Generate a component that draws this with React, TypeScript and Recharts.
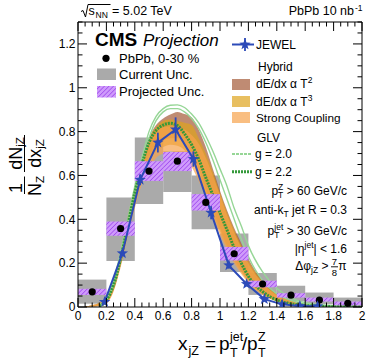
/**
 * Z+jet x_jZ distribution: PbPb data boxes, JEWEL, Hybrid bands, GLV curves.
 */

import {
  Area,
  ComposedChart,
  ErrorBar,
  Line,
  ReferenceArea,
  Scatter,
  XAxis,
  YAxis,
} from 'recharts';

const FONT = "'Liberation Sans', Arial, Helvetica, sans-serif";
const BLUE = '#2c4ab8';
const GRAY = '#aaaaaa';
const LIGHT_GREEN = '#96d696';
const DARK_GREEN = '#35993a';
const BROWN = '#a45a38';
const GOLD = '#dea41c';
const PEACH = '#f7a24c';
const BAND_OPACITY = 0.7;

// PbPb data, 0.2 wide bins
const BIN_EDGES = [0, 0.2, 0.4, 0.6, 0.8, 1.0, 1.2, 1.4, 1.6, 1.8, 2.0];
const DATA_X = [0.1, 0.3, 0.5, 0.7, 0.9, 1.1, 1.3, 1.5, 1.7, 1.9];
const DATA_Y = [0.069, 0.358, 0.62, 0.665, 0.477, 0.243, 0.105, 0.054, 0.032, 0.017];
const CURRENT_LO = [0.015, 0.21, 0.47, 0.525, 0.355, 0.16, 0.055, 0.025, 0.012, 0.003];
const CURRENT_HI = [0.125, 0.5, 0.773, 0.71, 0.6, 0.335, 0.155, 0.097, 0.066, 0.043];
const PROJ_LO = [0.055, 0.325, 0.575, 0.62, 0.44, 0.212, 0.09, 0.043, 0.025, 0.008];
const PROJ_HI = [0.083, 0.39, 0.665, 0.707, 0.515, 0.274, 0.12, 0.063, 0.043, 0.025];

// JEWEL
const JEWEL_X = [0.1875, 0.3125, 0.4375, 0.5625, 0.6875, 0.8125, 0.9375, 1.0625, 1.1875, 1.3125, 1.4375, 1.5625, 1.6875];
const JEWEL_Y = [0.023, 0.245, 0.58, 0.75, 0.81, 0.675, 0.43, 0.19, 0.105, 0.036, 0.012, 0.004, 0.003];
const JEWEL_ERR = [0.005, 0.015, 0.025, 0.045, 0.055, 0.035, 0.03, 0.015, 0.01, 0.006, 0.004, 0.002, 0.002];

// theory curves (Hybrid bands, GLV)
const THEORY_X = [0.05, 0.1, 0.15, 0.2, 0.25, 0.3, 0.35, 0.4, 0.45, 0.5, 0.55, 0.6, 0.65, 0.7, 0.75, 0.8, 0.85, 0.9, 0.95, 1.0, 1.05, 1.1, 1.15, 1.2, 1.3, 1.4, 1.5, 1.6, 1.7, 1.8, 1.9, 2.0];
const SC_LO = [0, 0.002, 0.005, 0.015, 0.07, 0.18, 0.32, 0.45, 0.56, 0.63, 0.68, 0.7, 0.71, 0.7, 0.68, 0.64, 0.575, 0.5, 0.41, 0.33, 0.26, 0.2, 0.15, 0.11, 0.055, 0.025, 0.012, 0.006, 0.003, 0.001, 0, 0];
const SC_HI = [0.003, 0.008, 0.018, 0.045, 0.12, 0.25, 0.4, 0.54, 0.66, 0.76, 0.8, 0.82, 0.825, 0.82, 0.81, 0.785, 0.745, 0.68, 0.6, 0.51, 0.42, 0.34, 0.27, 0.2, 0.11, 0.055, 0.028, 0.014, 0.008, 0.004, 0.002, 0.001];
const T3_LO = [0, 0.002, 0.006, 0.018, 0.075, 0.19, 0.33, 0.47, 0.59, 0.67, 0.71, 0.73, 0.74, 0.735, 0.715, 0.67, 0.6, 0.52, 0.43, 0.345, 0.27, 0.21, 0.16, 0.115, 0.058, 0.027, 0.013, 0.006, 0.003, 0.001, 0, 0];
const T3_HI = [0.003, 0.008, 0.018, 0.045, 0.12, 0.25, 0.41, 0.55, 0.67, 0.77, 0.82, 0.85, 0.855, 0.85, 0.84, 0.83, 0.77, 0.7, 0.615, 0.52, 0.43, 0.35, 0.28, 0.21, 0.115, 0.058, 0.029, 0.015, 0.008, 0.004, 0.002, 0.001];
const T2_LO = [0, 0.002, 0.006, 0.018, 0.075, 0.19, 0.34, 0.48, 0.6, 0.69, 0.74, 0.76, 0.77, 0.77, 0.75, 0.7, 0.63, 0.54, 0.45, 0.36, 0.28, 0.22, 0.165, 0.12, 0.06, 0.028, 0.013, 0.006, 0.003, 0.001, 0, 0];
const T2_HI = [0.003, 0.008, 0.018, 0.045, 0.12, 0.25, 0.41, 0.55, 0.67, 0.77, 0.83, 0.86, 0.878, 0.89, 0.88, 0.865, 0.81, 0.73, 0.63, 0.53, 0.44, 0.36, 0.29, 0.22, 0.12, 0.06, 0.03, 0.015, 0.008, 0.004, 0.002, 0.001];
const G20_LO = [null, null, 0.005, 0.03, 0.1, 0.22, 0.37, 0.52, 0.655, 0.77, 0.85, 0.89, 0.905, 0.905, 0.89, 0.86, 0.815, 0.75, 0.67, 0.58, 0.49, 0.4, 0.31, 0.23, 0.12, 0.06, 0.03, 0.014, 0.007, 0.003, 0.001, 0];
const G20_HI = [null, null, 0.01, 0.04, 0.12, 0.25, 0.4, 0.55, 0.68, 0.8, 0.87, 0.905, 0.92, 0.922, 0.91, 0.88, 0.84, 0.78, 0.71, 0.63, 0.55, 0.45, 0.37, 0.28, 0.16, 0.085, 0.042, 0.02, 0.01, 0.005, 0.002, 0.001];
const G22 = [null, null, 0.005, 0.03, 0.1, 0.22, 0.37, 0.52, 0.65, 0.75, 0.805, 0.83, 0.838, 0.828, 0.79, 0.74, 0.675, 0.59, 0.51, 0.43, 0.35, 0.27, 0.2, 0.14, 0.07, 0.032, 0.015, 0.007, 0.003, 0.0015, 0.0005, 0];

// axes
const X_MAJOR = [0, 0.2, 0.4, 0.6, 0.8, 1, 1.2, 1.4, 1.6, 1.8, 2];
const X_LABELS = ['0', '0.2', '0.4', '0.6', '0.8', '1', '1.2', '1.4', '1.6', '1.8', '2'];
const Y_MAJOR = [0, 0.2, 0.4, 0.6, 0.8, 1, 1.2];
const Y_LABELS = ['0', '0.2', '0.4', '0.6', '0.8', '1', '1.2'];
const X_TICKS = Array.from({ length: 41 }, (_, i) => i * 0.05);
const Y_TICKS = Array.from({ length: 27 }, (_, i) => i * 0.05);

const theoryRows = THEORY_X.map((x, i) => ({
  x,
  t2: [T2_LO[i], T2_HI[i]],
  t3: [T3_LO[i], T3_HI[i]],
  sc: [SC_LO[i], SC_HI[i]],
  g20lo: G20_LO[i],
  g20hi: G20_HI[i],
  g22: G22[i],
}));
const jewelRows = JEWEL_X.map((x, i) => ({ x, y: JEWEL_Y[i], err: JEWEL_ERR[i] }));
const dataRows = DATA_X.map((x, i) => ({ x, y: DATA_Y[i] }));

const majorIndex = (list: number[], v: number) => list.findIndex((m) => Math.abs(m - v) < 1e-6);

function xTick(side: 'bottom' | 'top') {
  return (props: any) => {
    const { x, y, payload } = props;
    const i = majorIndex(X_MAJOR, payload.value);
    const len = i >= 0 ? 9 : 4.5;
    const dir = side === 'bottom' ? -1 : 1;
    return (
      <g>
        <line x1={x} x2={x} y1={y} y2={y + dir * len} stroke="#000" strokeWidth={1} />
        {side === 'bottom' && i >= 0 && (
          <text x={x} y={y + 12.5} textAnchor="middle" fontSize={12} fontFamily={FONT} fill="#000">
            {X_LABELS[i]}
          </text>
        )}
      </g>
    );
  };
}

function yTick(side: 'left' | 'right') {
  return (props: any) => {
    const { x, y, payload } = props;
    const i = majorIndex(Y_MAJOR, payload.value);
    const len = i >= 0 ? 9 : 4.5;
    const dir = side === 'left' ? 1 : -1;
    return (
      <g>
        <line x1={x} x2={x + dir * len} y1={y} y2={y} stroke="#000" strokeWidth={1} />
        {side === 'left' && i >= 0 && (
          <text x={x - 2.5} y={y + 4.3} textAnchor="end" fontSize={12} fontFamily={FONT} fill="#000">
            {Y_LABELS[i]}
          </text>
        )}
      </g>
    );
  };
}

function Star({ cx, cy, r = 6 }: { cx: number; cy: number; r?: number }) {
  const pts: string[] = [];
  for (let k = 0; k < 10; k++) {
    const rad = k % 2 === 0 ? r : r * 0.42;
    const a = -Math.PI / 2 + (k * Math.PI) / 5;
    pts.push(`${cx + rad * Math.cos(a)},${cy + rad * Math.sin(a)}`);
  }
  return <polygon points={pts.join(' ')} fill={BLUE} />;
}

function HatchPattern({ id }: { id: string }) {
  return (
    <pattern id={id} patternUnits="userSpaceOnUse" width={3.2} height={3.2} patternTransform="rotate(45)">
      <rect width={3.2} height={3.2} fill="#cf9bfb" />
      <line x1={0} y1={0} x2={0} y2={3.2} stroke="#9d45ee" strokeWidth={1.4} />
    </pattern>
  );
}

function Overlay() {
  const t = { fontFamily: FONT, fill: '#000' };
  return (
    <svg
      width={374}
      height={363}
      style={{ position: 'absolute', left: 0, top: 0, pointerEvents: 'none' }}
    >
      <defs>
        <HatchPattern id="hatchLegend" />
      </defs>

      {/* header */}
      <polyline points="81,11.5 83,10.5 85.5,17 88,4.5 110.5,4.5" fill="none" stroke="#000" strokeWidth={1} />
      <text x={88.5} y={15} fontSize={12.5} {...t}>s</text>
      <text x={95.5} y={18} fontSize={8.5} {...t}>NN</text>
      <text x={112} y={15} fontSize={12.5} {...t}>= 5.02 TeV</text>
      <text x={354} y={15} fontSize={12.5} textAnchor="end" {...t}>PbPb 10 nb</text>
      <text x={355} y={10.5} fontSize={8.5} {...t}>-1</text>

      {/* left legend */}
      <text x={95} y={46} fontSize={19} fontWeight="bold" {...t}>CMS</text>
      <text x={143} y={46} fontSize={17} fontStyle="italic" {...t}>Projection</text>
      <circle cx={106} cy={58.3} r={3.6} fill="#000" />
      <text x={119} y={62.7} fontSize={13} {...t}>PbPb, 0-30 %</text>
      <rect x={97} y={68.5} width={19} height={11.5} fill={GRAY} />
      <text x={119} y={79} fontSize={13} {...t}>Current Unc.</text>
      <rect x={97} y={86} width={19} height={11.5} fill="url(#hatchLegend)" />
      <text x={119} y={96} fontSize={13} {...t}>Projected Unc.</text>

      {/* right legend */}
      <line x1={232} x2={254} y1={44.5} y2={44.5} stroke={BLUE} strokeWidth={2} />
      <line x1={245} x2={245} y1={38} y2={51} stroke={BLUE} strokeWidth={1.8} />
      <Star cx={245} cy={44.5} />
      <text x={256} y={49} fontSize={12} {...t}>JEWEL</text>
      <text x={258} y={71} fontSize={12} {...t}>Hybrid</text>
      <rect x={232} y={79} width={18} height={11} fill={BROWN} fillOpacity={BAND_OPACITY} />
      <text x={256} y={88} fontSize={12} {...t}>
        dE/dx α T<tspan dy={-5} fontSize={8.5}>2</tspan>
      </text>
      <rect x={232} y={96} width={18} height={11} fill={GOLD} fillOpacity={BAND_OPACITY} />
      <text x={256} y={105.5} fontSize={12} {...t}>
        dE/dx α T<tspan dy={-5} fontSize={8.5}>3</tspan>
      </text>
      <rect x={232} y={112} width={18} height={11} fill={PEACH} fillOpacity={BAND_OPACITY} />
      <text x={256} y={121.5} fontSize={11.8} {...t}>Strong Coupling</text>
      <text x={257} y={141.7} fontSize={12} {...t}>GLV</text>
      <line x1={232} x2={252} y1={154} y2={154} stroke={LIGHT_GREEN} strokeWidth={1.8} strokeDasharray="3 1" />
      <text x={255} y={158.3} fontSize={12} {...t}>g = 2.0</text>
      <line x1={232} x2={252} y1={171.7} y2={171.7} stroke={DARK_GREEN} strokeWidth={3} strokeDasharray="2 1" />
      <text x={255} y={175.5} fontSize={12} {...t}>g = 2.2</text>

      {/* selection cuts */}
      <text x={347} y={194.5} fontSize={12} textAnchor="end" {...t}>
        p<tspan dy={-5} fontSize={8.5}>Z</tspan>
        <tspan dx={-5.2} dy={8.5} fontSize={8.5}>T</tspan>
        <tspan dy={-3.5}>{' > 60 GeV/c'}</tspan>
      </text>
      <text x={347} y={214} fontSize={12} textAnchor="end" {...t}>
        anti-k<tspan dy={3} fontSize={8.5}>T</tspan>
        <tspan dy={-3}>{' jet R = 0.3'}</tspan>
      </text>
      <text x={347} y={234.5} fontSize={12} textAnchor="end" {...t}>
        p<tspan dy={-5} fontSize={8.5}>jet</tspan>
        <tspan dx={-9} dy={8.5} fontSize={8.5}>T</tspan>
        <tspan dx={3.8} dy={-3.5}>{' > 30 GeV/c'}</tspan>
      </text>
      <text x={347} y={253.3} fontSize={12} textAnchor="end" {...t}>
        |η<tspan dy={-5} fontSize={8.5}>jet</tspan>
        <tspan dy={5}>{'| < 1.6'}</tspan>
      </text>
      <text x={328.5} y={270} fontSize={12} textAnchor="end" {...t}>
        Δφ<tspan dy={3} fontSize={8.5}>jZ</tspan>
        <tspan dy={-3}>{' >'}</tspan>
      </text>
      <text x={334.5} y={264.5} fontSize={9.5} textAnchor="middle" {...t}>7</text>
      <line x1={331} x2={338} y1={266.8} y2={266.8} stroke="#000" strokeWidth={0.9} />
      <text x={334.5} y={276} fontSize={9.5} textAnchor="middle" {...t}>8</text>
      <text x={338.3} y={270} fontSize={12} {...t}>π</text>

      {/* x title */}
      <text x={178} y={350} fontSize={19} {...t}>x</text>
      <text x={188.5} y={355} fontSize={12.5} {...t}>jZ</text>
      <text x={205} y={350} fontSize={19} {...t}>=</text>
      <text x={219} y={350} fontSize={19} {...t}>p</text>
      <text x={230} y={341} fontSize={12.5} {...t}>jet</text>
      <text x={230} y={356.5} fontSize={12.5} {...t}>T</text>
      <text x={242} y={350} fontSize={19} {...t}>/</text>
      <text x={247} y={350} fontSize={19} {...t}>p</text>
      <text x={258} y={341} fontSize={12.5} {...t}>Z</text>
      <text x={258} y={356.5} fontSize={12.5} {...t}>T</text>

      {/* y title */}
      <g transform="rotate(-90)">
        <text x={-153.5} y={21.5} fontSize={18} textAnchor="middle" {...t}>
          dN<tspan dy={2} fontSize={11.5}>jZ</tspan>
        </text>
        <text x={-153.5} y={40.5} fontSize={18} textAnchor="middle" {...t}>
          dx<tspan dy={3} fontSize={11.5}>jZ</tspan>
        </text>
        <text x={-188} y={21.5} fontSize={18} textAnchor="middle" {...t}>1</text>
        <text x={-186} y={40.5} fontSize={18} textAnchor="middle" {...t}>
          N<tspan dy={3} fontSize={11.5}>Z</tspan>
        </text>
      </g>
      <line x1={24.5} x2={24.5} y1={135} y2={172} stroke="#000" strokeWidth={1} />
      <line x1={24.5} x2={24.5} y1={176.5} y2={194} stroke="#000" strokeWidth={1} />
    </svg>
  );
}

export default function App() {
  return (
    <div style={{ position: 'fixed', left: 0, top: 0, width: 374, height: 363, background: '#fff' }}>
      <ComposedChart
        width={374}
        height={363}
        data={theoryRows}
        margin={{ top: 21, right: 11, bottom: 55, left: 77 }}
      >
        <defs>
          <HatchPattern id="hatchPlot" />
        </defs>
        <XAxis
          dataKey="x"
          type="number"
          domain={[0, 2]}
          allowDataOverflow
          ticks={X_TICKS}
          interval={0}
          height={1}
          tickSize={0}
          tickMargin={0}
          tickLine={false}
          axisLine={{ stroke: '#000' }}
          tick={xTick('bottom')}
        />
        <XAxis
          xAxisId="top"
          orientation="top"
          dataKey="x"
          type="number"
          domain={[0, 2]}
          allowDataOverflow
          ticks={X_TICKS}
          interval={0}
          height={1}
          tickSize={0}
          tickMargin={0}
          tickLine={false}
          axisLine={{ stroke: '#000' }}
          tick={xTick('top')}
        />
        <YAxis
          type="number"
          domain={[0, 1.3]}
          allowDataOverflow
          ticks={Y_TICKS}
          interval={0}
          width={1}
          tickSize={0}
          tickMargin={0}
          tickLine={false}
          axisLine={{ stroke: '#000' }}
          tick={yTick('left')}
        />
        <YAxis
          yAxisId="right"
          orientation="right"
          type="number"
          domain={[0, 1.3]}
          allowDataOverflow
          ticks={Y_TICKS}
          interval={0}
          width={1}
          tickSize={0}
          tickMargin={0}
          tickLine={false}
          axisLine={{ stroke: '#000' }}
          tick={yTick('right')}
        />

        {BIN_EDGES.slice(0, -1).map((x1, i) => (
          <ReferenceArea
            key={`cur${i}`}
            x1={x1}
            x2={BIN_EDGES[i + 1]}
            y1={CURRENT_LO[i]}
            y2={CURRENT_HI[i]}
            fill={GRAY}
            fillOpacity={1}
            stroke="none"
            zIndex={110}
          />
        ))}

        <Area type="monotone" dataKey="t2" fill={BROWN} fillOpacity={BAND_OPACITY} stroke="none" isAnimationActive={false} zIndex={120} />
        <Area type="monotone" dataKey="t3" fill={GOLD} fillOpacity={BAND_OPACITY} stroke="none" isAnimationActive={false} zIndex={121} />
        <Area type="monotone" dataKey="sc" fill={PEACH} fillOpacity={BAND_OPACITY} stroke="none" isAnimationActive={false} zIndex={122} />

        <Line type="monotone" dataKey="g20lo" stroke={LIGHT_GREEN} strokeWidth={1.4} dot={false} isAnimationActive={false} zIndex={130} />
        <Line type="monotone" dataKey="g20hi" stroke={LIGHT_GREEN} strokeWidth={1.4} dot={false} isAnimationActive={false} zIndex={131} />
        <Line type="monotone" dataKey="g22" stroke={DARK_GREEN} strokeWidth={3} strokeDasharray="2 1" dot={false} isAnimationActive={false} zIndex={132} />

        {BIN_EDGES.slice(0, -1).map((x1, i) => (
          <ReferenceArea
            key={`proj${i}`}
            x1={x1}
            x2={BIN_EDGES[i + 1]}
            y1={PROJ_LO[i]}
            y2={PROJ_HI[i]}
            fill="url(#hatchPlot)"
            fillOpacity={1}
            stroke="none"
            zIndex={140}
          />
        ))}

        <Line
          data={jewelRows}
          type="linear"
          dataKey="y"
          stroke={BLUE}
          strokeWidth={2}
          isAnimationActive={false}
          zIndex={150}
          dot={(p: any) => <Star key={`st${p.index}`} cx={p.cx} cy={p.cy} />}
          activeDot={false}
        >
          <ErrorBar dataKey="err" width={0} stroke={BLUE} strokeWidth={1.8} direction="y" />
        </Line>

        <Scatter
          data={dataRows}
          dataKey="y"
          isAnimationActive={false}
          zIndex={160}
          shape={(p: any) => <circle cx={p.cx} cy={p.cy} r={3.6} fill="#000" />}
        />
      </ComposedChart>
      <Overlay />
    </div>
  );
}
